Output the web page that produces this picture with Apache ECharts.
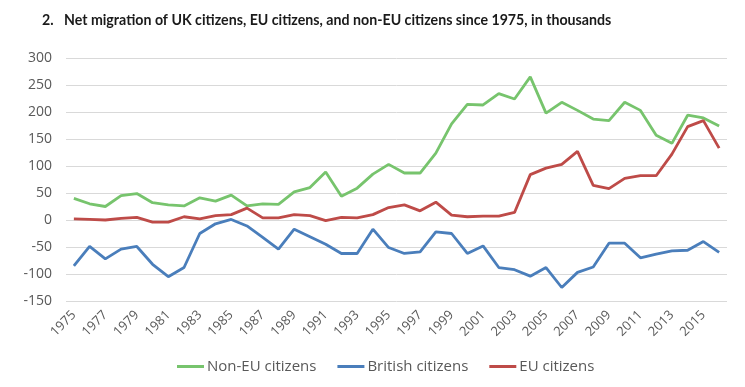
<!DOCTYPE html>
<html><head><meta charset="utf-8">
<script src="https://cdn.jsdelivr.net/npm/echarts@6/dist/echarts.min.js"></script>
<style>html,body{margin:0;padding:0;background:#fff}#c{width:745px;height:387px}</style>
</head><body><div id="c"></div>
<script>
const years = [];
for (let y = 1975; y <= 2016; y++) years.push(String(y));
const nonEU = [40,30,25,45,49,32,28,26,41,35,46,26,30,29,52,60,89,44,59,85,103,87,87,124,178,214,213,234,224,265,198,218,203,187,184,218,203,157,142,194,189,174];
const british = [-85,-49,-72,-54,-49,-82,-105,-88,-25,-7,1,-11,-32,-54,-17,-31,-45,-62,-62,-17,-51,-62,-59,-22,-25,-62,-48,-88,-92,-104,-88,-125,-97,-87,-43,-43,-70,-63,-57,-56,-40,-60];
const eu = [2,1,0,3,5,-4,-4,6,2,8,10,22,4,4,10,8,-1,5,4,10,23,28,17,33,9,6,7,7,14,84,96,103,127,64,58,77,82,82,122,173,184,133];
const yTicks = {min:-150, max:300, interval:50};

const chart = echarts.init(document.getElementById('c'), null, {renderer:'canvas'});
const font = 'Open Sans';
chart.setOption({
  animation:false,
  title:{text:'2.   Net migration of UK citizens, EU citizens, and non-EU citizens since 1975, in thousands',
    left:37, top:8, textStyle:{fontFamily:'Lato', fontWeight:'bold', fontSize:14.2, color:'#1a1a1a'}},
  grid:{left:66, right:18, top:58, bottom:86},
  legend:{bottom:8, left:172, itemWidth:27, itemHeight:3, itemGap:21, icon:'rect',
    textStyle:{fontFamily:font, fontSize:15, color:'#595959', padding:[0,0,0,-2]},
    data:['Non-EU citizens','British citizens','EU citizens']},
  xAxis:{type:'category', data:years, boundaryGap:true,
    axisLine:{show:false}, axisTick:{show:false},
    axisLabel:{interval:1, rotate:45, fontFamily:font, fontSize:13, color:'#595959', margin:12}},
  yAxis:{type:'value', min:yTicks.min, max:yTicks.max, interval:yTicks.interval,
    axisLabel:{fontFamily:font, fontSize:14, color:'#595959', margin:14},
    splitLine:{lineStyle:{color:'#d9d9d9', width:1}}, axisLine:{show:false}, axisTick:{show:false}},
  series:[
    {name:'Non-EU citizens', type:'line', data:nonEU, symbol:'none', lineStyle:{width:2.8, color:'#77c46d'}, itemStyle:{color:'#77c46d'}},
    {name:'British citizens', type:'line', data:british, symbol:'none', lineStyle:{width:2.8, color:'#4a7ebb'}, itemStyle:{color:'#4a7ebb'}},
    {name:'EU citizens', type:'line', data:eu, symbol:'none', lineStyle:{width:2.8, color:'#be4b48'}, itemStyle:{color:'#be4b48'}}
  ]
});
</script></body></html>
